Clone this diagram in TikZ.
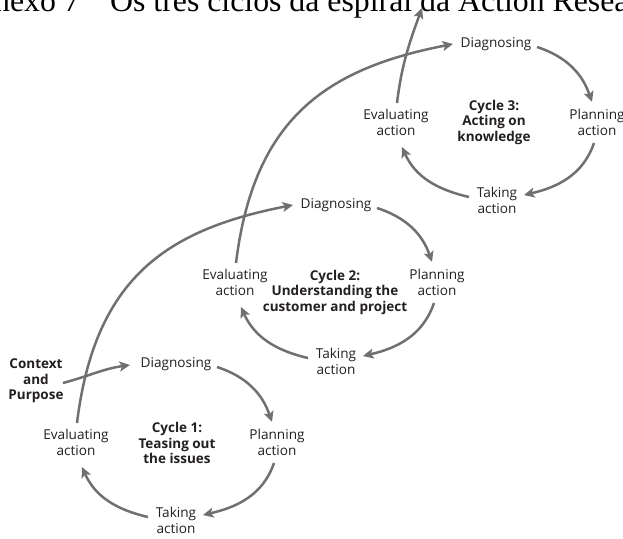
\documentclass[tikz,border=0pt]{standalone}
\usepackage{fontspec}
\setmainfont{Open Sans}
\newfontfamily\titlefont{Liberation Serif}
\usetikzlibrary{arrows.meta}

\definecolor{flowgray}{HTML}{707070}
\definecolor{labelink}{HTML}{231F20}

\begin{document}
\begin{tikzpicture}[x=1pt,y=1pt,
  lbl/.style={font=\fontsize{13.6}{16}\selectfont, text=labelink, align=center, inner sep=2pt},
  cyc/.style={font=\fontsize{13.5}{15.5}\selectfont\bfseries, text=labelink, align=center, inner sep=2pt},
  head/.style={font=\titlefont\fontsize{31.8}{34}\selectfont, text=black, inner sep=0pt},
  flow/.style={draw=flowgray, line width=2.5pt, -{Stealth[length=10.5pt,width=10pt,inset=2.5pt]}},
]
\useasboundingbox (0,0) rectangle (623,-538);

% heading (runs off the page edges)
\node[head, anchor=base west] (headB) at (110,-11) {Os três ciclos da espiral da Action Research};
\node[head, anchor=base east] (headA) at (80,-11) {Anexo 7};

% Cycle 1
\node[lbl] (d1) at (176,-364) {Diagnosing};
\node[lbl] (p1) at (277,-442) {Planning\\action};
\node[lbl] (t1) at (176,-520) {Taking\\action};
\node[lbl] (e1) at (76,-442) {Evaluating\\action};
\node[cyc] (c1) at (177,-443) {Cycle 1:\\Teasing out\\the issues};
\node[cyc] (ctx) at (36,-381) {Context\\and\\Purpose};

% Cycle 2
\node[lbl] (d2) at (336,-205) {Diagnosing};
\node[lbl] (p2) at (437,-282) {Planning\\action};
\node[lbl] (t2) at (336,-361) {Taking\\action};
\node[lbl] (e2) at (235,-282) {Evaluating\\action};
\node[cyc] (c2) at (335,-292) {Cycle 2:\\Understanding the\\customer and project};

% Cycle 3
\node[lbl] (d3) at (496,-44) {Diagnosing};
\node[lbl] (p3) at (597,-122) {Planning\\action};
\node[lbl] (t3) at (497,-200) {Taking\\action};
\node[lbl] (e3) at (396,-122) {Evaluating\\action};
\node[cyc] (c3) at (494,-122) {Cycle 3:\\Acting on\\knowledge};

\coordinate (exit) at (422,-8);

% arrows around each cycle
\foreach \i in {1,2,3}{
  \draw[flow] ([shift={(41,-3)}]d\i.center) to[out=-18,in=109] ([shift={(-5,20)}]p\i.center);
  \draw[flow] ([shift={(-3,-21)}]p\i.center) to[out=-109,in=13] ([shift={(27,5)}]t\i.center);
  \draw[flow] ([shift={(-28,3)}]t\i.center) to[out=167,in=-66] ([shift={(6,-25)}]e\i.center);
}

% entry and spiral links
\draw[flow] ([shift={(27,-2)}]ctx.center) to[out=15,in=188] ([shift={(-46,-1)}]d1.center);
\draw[flow] ([shift={(1,19)}]e1.center) .. controls +(83:145) and +(191:130) .. ([shift={(-43,0)}]d2.center);
\draw[flow] ([shift={(1,19)}]e2.center) .. controls +(83:145) and +(191:130) .. ([shift={(-43,0)}]d3.center);
\draw[flow] ([shift={(1,19)}]e3.center) to[out=83,in=-110] (exit);
\end{tikzpicture}
\end{document}
